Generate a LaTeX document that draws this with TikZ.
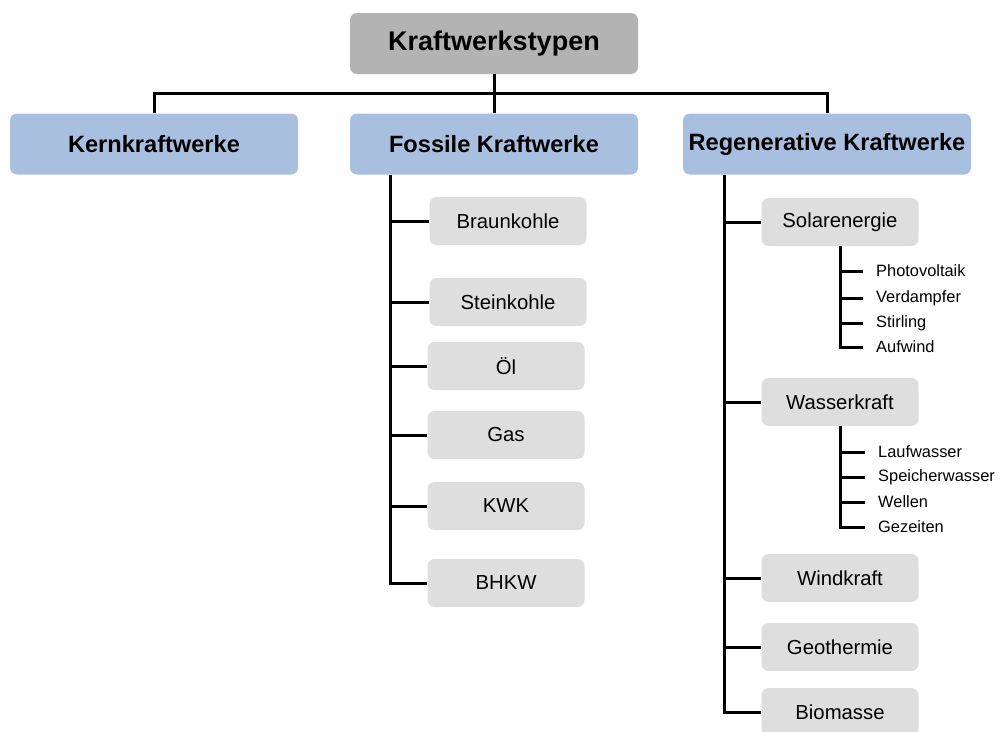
\documentclass[tikz,border=0pt]{standalone}
\usepackage{fontspec}
\setmainfont{Liberation Sans}
\definecolor{topgray}{HTML}{B3B3B3}
\definecolor{typeblue}{HTML}{A9BFE0}
\definecolor{subgray}{HTML}{DEDEDE}

\begin{document}
\begin{tikzpicture}[x=1pt,y=-1pt,
  topbox/.style={fill=topgray, rounded corners=7pt, minimum width=288pt, minimum height=61pt, inner sep=0pt, font=\fontsize{27}{31}\selectfont\bfseries},
  typebox/.style={fill=typeblue, rounded corners=7pt, minimum width=288pt, minimum height=61pt, inner sep=0pt, font=\fontsize{23.6}{27}\selectfont\bfseries},
  subbox/.style={fill=subgray, rounded corners=7pt, minimum width=157pt, minimum height=48pt, inner sep=0pt, font=\fontsize{20.3}{24}\selectfont},
  leaf/.style={anchor=west, inner xsep=13pt, inner ysep=0pt, font=\fontsize{16.4}{19}\selectfont},
  tree/.style={line width=3pt, black}]

\clip (0,0) rectangle (1001,731);

% top and the three groups
\node[topbox] (top) at (494,43.5) {Kraftwerkstypen};
\node[typebox] (kern) at (154,144) {Kernkraftwerke};
\node[typebox] (fossil) at (494,144) {Fossile Kraftwerke};
\node[typebox] (regen) at (827,144) {Regenerative Kraftwerke};

\coordinate (bus) at (494,93);
\draw[tree] (kern.north) |- (bus) -| (regen.north);
\draw[tree] (top.south) -- (fossil.north);

% fossile
\node[subbox] (braun) at (508,221) {Braunkohle};
\node[subbox] (stein) at (508,302) {Steinkohle};
\node[subbox] (oel) at (506,366) {Öl};
\node[subbox] (gas) at (506,435) {Gas};
\node[subbox] (kwk) at (506,506) {KWK};
\node[subbox] (bhkw) at (506,583) {BHKW};

\coordinate (ftrunk) at (390,175);
\draw[tree] (ftrunk) |- (bhkw.west);
\foreach \n in {braun,stein,oel,gas,kwk}
  \draw[tree] (ftrunk |- \n.west) -- (\n.west);

% regenerative
\node[subbox] (solar) at (840,222) {Solarenergie};
\node[subbox] (wasser) at (840,402) {Wasserkraft};
\node[subbox] (wind) at (840,578) {Windkraft};
\node[subbox] (geo) at (840,647) {Geothermie};
\node[subbox] (bio) at (840,712) {Biomasse};

\coordinate (rtrunk) at (724,175);
\draw[tree] (rtrunk) |- (bio.west);
\foreach \n in {solar,wasser,wind,geo}
  \draw[tree] (rtrunk |- \n.west) -- (\n.west);

% solar
\node[leaf] (pv) at (863,271) {Photovoltaik};
\node[leaf] (verd) at (863,298) {Verdampfer};
\node[leaf] (stir) at (863,323) {Stirling};
\node[leaf] (auf) at (863,347) {Aufwind};
\draw[tree] (solar.south) |- (auf.west);
\foreach \n in {pv,verd,stir}
  \draw[tree] (solar.south |- \n.west) -- (\n.west);

% wasser
\node[leaf] (lauf) at (865,452) {Laufwasser};
\node[leaf] (speich) at (865,477) {Speicherwasser};
\node[leaf] (well) at (865,502) {Wellen};
\node[leaf] (gez) at (865,527) {Gezeiten};
\draw[tree] (wasser.south) |- (gez.west);
\foreach \n in {lauf,speich,well}
  \draw[tree] (wasser.south |- \n.west) -- (\n.west);

\end{tikzpicture}
\end{document}
